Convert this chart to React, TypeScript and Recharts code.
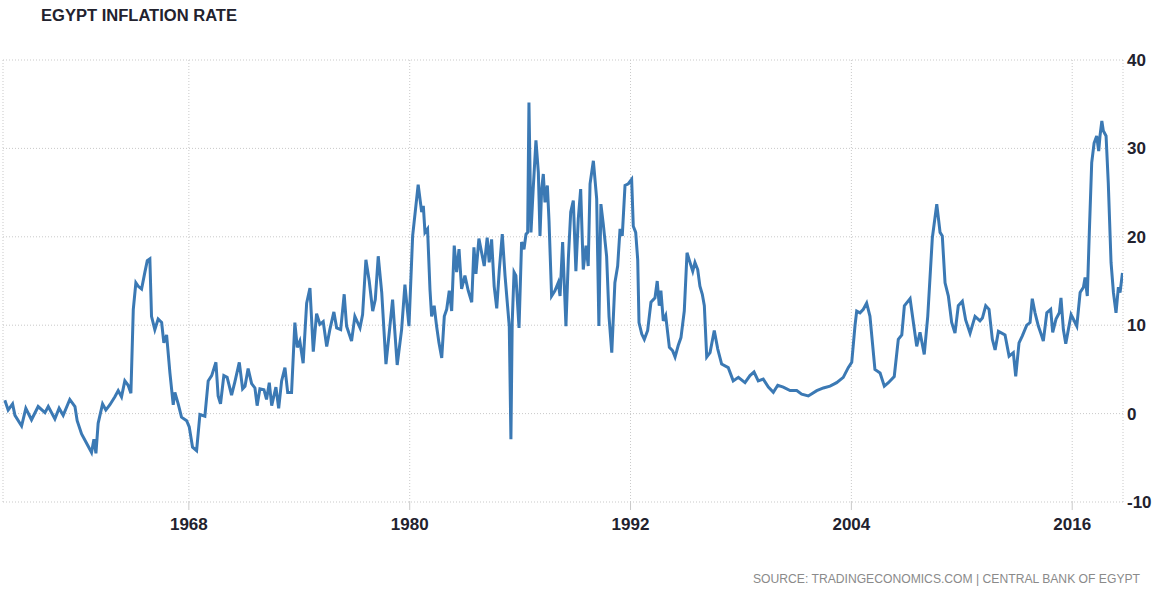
import { CartesianGrid, Line, LineChart, XAxis, YAxis } from "recharts";

// decimal years
const years = [
  1958.0, 1958.18, 1958.42, 1958.55, 1958.91, 1959.14, 1959.45, 1959.81, 1960.18, 1960.36,
  1960.72, 1960.95, 1961.17, 1961.53, 1961.81, 1961.93, 1962.17, 1962.53, 1962.71, 1962.84,
  1962.95, 1963.07, 1963.31, 1963.49, 1963.71, 1963.98, 1964.16, 1964.34, 1964.52, 1964.7,
  1964.85, 1964.98, 1965.12, 1965.25, 1965.43, 1965.61, 1965.74, 1965.88, 1965.97, 1966.15,
  1966.33, 1966.52, 1966.64, 1966.79, 1966.97, 1967.15, 1967.24, 1967.42, 1967.6, 1967.88,
  1968.02, 1968.2, 1968.42,
  1968.6, 1968.87, 1969.05, 1969.24, 1969.47, 1969.59, 1969.72, 1969.9, 1970.08, 1970.32,
  1970.5, 1970.74, 1970.92, 1971.05, 1971.22, 1971.41, 1971.59, 1971.71, 1971.86, 1972.08,
  1972.22, 1972.37, 1972.5, 1972.73, 1972.88, 1973.04, 1973.22, 1973.37, 1973.58, 1973.76,
  1973.89, 1974.03, 1974.21, 1974.4, 1974.58, 1974.76, 1974.94, 1975.12, 1975.3, 1975.49,
  1975.66, 1975.88, 1976.03, 1976.25, 1976.44, 1976.57, 1976.84, 1977.02, 1977.3, 1977.44,
  1977.62, 1977.8, 1977.99, 1978.13, 1978.29, 1978.48, 1978.71, 1978.89, 1979.07, 1979.32,
  1979.56, 1979.74, 1979.96, 1980.16, 1980.46,
  1980.65, 1980.74, 1980.83, 1980.97, 1981.1, 1981.19, 1981.33, 1981.46, 1981.59, 1981.74,
  1981.88, 1982.01, 1982.15, 1982.28, 1982.42, 1982.55, 1982.68, 1982.82, 1983.0, 1983.18,
  1983.37, 1983.49, 1983.6, 1983.76, 1983.91, 1984.05, 1984.21, 1984.32, 1984.45, 1984.59,
  1984.73, 1984.87, 1985.03, 1985.18, 1985.3, 1985.41, 1985.5, 1985.57, 1985.67, 1985.77,
  1985.94, 1986.08, 1986.21, 1986.32, 1986.41, 1986.48, 1986.59, 1986.71, 1986.86, 1986.99,
  1987.08, 1987.17, 1987.26, 1987.35, 1987.48, 1987.57, 1987.71, 1987.89, 1988.07, 1988.17,
  1988.31, 1988.49, 1988.62, 1988.75, 1988.89, 1989.03, 1989.16, 1989.29, 1989.43, 1989.58,
  1989.7, 1989.8, 1989.98, 1990.16, 1990.28, 1990.39, 1990.52, 1990.7, 1990.83, 1990.98,
  1991.15, 1991.3, 1991.43, 1991.55, 1991.7, 1991.88, 1992.06,
  1992.15, 1992.28, 1992.39, 1992.46, 1992.61, 1992.75, 1992.93, 1993.11, 1993.33, 1993.45,
  1993.56, 1993.65, 1993.78, 1993.91, 1994.11, 1994.29, 1994.42, 1994.59, 1994.74, 1994.92,
  1995.07, 1995.23, 1995.38, 1995.5, 1995.65, 1995.77, 1995.9, 1996.01, 1996.14, 1996.32,
  1996.55, 1996.74, 1996.95, 1997.31, 1997.58, 1997.86, 1998.22, 1998.49, 1998.71, 1998.94,
  1999.21, 1999.49, 1999.76, 2000.0, 2000.3, 2000.67, 2001.03, 2001.3, 2001.66, 2002.12,
  2002.48, 2002.84, 2003.2, 2003.56, 2003.83, 2004.02, 2004.2,
  2004.29, 2004.47, 2004.65, 2004.83, 2005.01, 2005.28, 2005.56, 2005.79, 2006.01, 2006.33,
  2006.55, 2006.74, 2006.88, 2007.19, 2007.37, 2007.55, 2007.73, 2007.96, 2008.15, 2008.4,
  2008.64, 2008.82, 2008.94, 2009.09, 2009.27, 2009.45, 2009.63, 2009.81, 2010.03, 2010.21,
  2010.45, 2010.72, 2010.99, 2011.12, 2011.3, 2011.48, 2011.66, 2011.81, 2011.99, 2012.17,
  2012.35, 2012.57, 2012.8, 2012.93, 2013.11, 2013.29, 2013.53, 2013.71, 2013.83, 2013.98,
  2014.16, 2014.34, 2014.43, 2014.62, 2014.83, 2014.94, 2015.12, 2015.3, 2015.39, 2015.52,
  2015.65, 2015.79, 2015.94, 2016.06, 2016.25, 2016.43, 2016.61, 2016.7, 2016.82, 2016.93,
  2017.06, 2017.19, 2017.33, 2017.44, 2017.51, 2017.61, 2017.69, 2017.84, 2017.96, 2018.11,
  2018.24, 2018.38, 2018.51, 2018.6, 2018.73,
];

const rates = [
  1.5, 0.4, 1.1, -0.2, -1.4, 0.6, -0.7, 0.8, 0.1, 0.8,
  -0.6, 0.6, -0.2, 1.6, 0.8, -0.8, -2.3, -3.7, -4.4, -2.9,
  -4.5, -1.1, 1.1, 0.4, 1.0, 1.9, 2.6, 1.9, 3.7, 3.2,
  2.3, 11.8, 14.8, 14.4, 14.1, 16.0, 17.3, 17.5, 11.0, 9.5,
  10.7, 10.3, 8.0, 8.9, 4.6, 1.0, 2.4, 1.1, -0.4, -0.8,
  -1.5, -3.8, -4.2,
  -0.1, -0.3, 3.7, 4.3, 5.8, 2.0, 1.1, 4.3, 4.1, 2.1,
  3.6, 5.8, 2.8, 3.1, 5.1, 3.4, 2.9, 0.9, 2.8, 2.7,
  1.6, 3.5, 0.9, 3.0, 0.6, 3.7, 5.2, 2.4, 2.4, 10.3,
  7.5, 8.2, 5.7, 12.5, 14.2, 7.0, 11.3, 10.1, 10.4, 7.6,
  9.5, 11.5, 9.7, 9.5, 13.5, 9.9, 8.2, 11.0, 9.7, 11.2,
  17.4, 15.0, 11.6, 12.9, 17.8, 13.7, 5.6, 9.2, 12.9, 5.5,
  9.5, 14.6, 9.9, 20.1, 25.9,
  22.8, 23.5, 20.5, 20.9, 14.1, 11.0, 12.2, 9.9, 8.0, 6.3,
  11.0, 11.8, 13.9, 11.6, 19.0, 16.0, 18.6, 14.1, 15.6, 13.9,
  12.6, 18.8, 15.8, 19.8, 18.2, 16.7, 19.9, 17.1, 19.7, 14.4,
  11.9, 16.3, 20.3, 15.6, 12.6, 9.9, -2.9, 10.3, 16.0, 15.6,
  9.7, 19.4, 18.6, 20.3, 20.5, 35.2, 20.5, 25.4, 30.9, 27.3,
  20.1, 25.4, 27.1, 23.9, 25.8, 21.8, 13.3, 13.9, 14.8, 13.3,
  19.4, 9.9, 17.5, 22.8, 24.1, 16.1, 22.0, 25.4, 16.3, 19.0,
  16.7, 26.0, 28.6, 24.3, 9.9, 23.7, 21.4, 17.8, 11.0, 6.9,
  14.8, 16.7, 20.9, 20.1, 25.8, 26.0, 26.5,
  21.2, 20.5, 17.4, 10.3, 9.0, 8.4, 9.4, 12.6, 13.1, 15.0,
  12.2, 13.9, 10.5, 11.1, 7.5, 7.1, 6.4, 7.7, 8.6, 11.6,
  18.2, 17.1, 16.1, 17.1, 16.3, 14.4, 13.5, 12.2, 6.4, 6.9,
  9.4, 7.3, 5.6, 5.2, 3.7, 4.1, 3.5, 4.3, 4.7, 3.7,
  3.9, 3.0, 2.4, 3.2, 3.0, 2.6, 2.6, 2.2, 2.0, 2.6,
  2.9, 3.1, 3.5, 4.1, 5.2, 5.8, 10.0,
  11.6, 11.4, 11.8, 12.5, 11.0, 5.0, 4.6, 3.1, 3.5, 4.2,
  8.4, 8.9, 12.2, 13.0, 10.3, 7.6, 9.2, 6.7, 11.0, 19.9,
  23.7, 20.5, 20.1, 14.8, 13.3, 10.3, 9.1, 12.2, 12.7, 10.6,
  9.1, 11.0, 10.5, 10.8, 12.2, 11.8, 8.4, 7.2, 9.3, 9.1,
  8.9, 6.5, 6.9, 4.2, 8.0, 8.8, 10.0, 10.3, 13.0, 11.4,
  9.9, 8.8, 8.2, 11.4, 11.8, 9.2, 10.7, 11.4, 13.1, 9.5,
  7.9, 9.5, 11.2, 10.7, 9.9, 13.7, 14.3, 15.4, 13.3, 20.5,
  28.4, 30.6, 31.4, 29.7, 31.4, 33.1, 32.0, 31.4, 26.1, 17.1,
  13.7, 11.4, 14.3, 13.7, 15.9,
];

const yearTicks = [1968, 1980, 1992, 2004, 2016];
const rateTicks = [-10, 0, 10, 20, 30, 40];

const data = years.map((year, i) => ({ year, rate: rates[i] }));

const FONT = '"Liberation Sans", Arial, sans-serif';
const TEXT = "#22222e";
const GRID = "#c9c9c9";

function YearTick({ x, y, payload }: any) {
  return (
    <text x={x} y={y} dy={18} textAnchor="middle" fontFamily={FONT} fontSize={17} fontWeight={700} fill={TEXT}>
      {payload.value}
    </text>
  );
}

function RateTick({ x, y, payload }: any) {
  return (
    <text x={x} y={y} dy={6} textAnchor="start" fontFamily={FONT} fontSize={17} fontWeight={700} fill={TEXT}>
      {payload.value}
    </text>
  );
}

export default function App() {
  return (
    <div style={{ position: "absolute", left: 0, top: 0, width: 1154, height: 590, background: "#fff" }}>
      <LineChart width={1154} height={590} data={data} margin={{ top: 60, right: 0, bottom: 48, left: 3 }}>
        <CartesianGrid stroke={GRID} strokeDasharray="1 2" horizontal vertical />
        <XAxis
          dataKey="year"
          type="number"
          domain={[1957.9, 2018.76]}
          ticks={yearTicks}
          allowDataOverflow
          axisLine={false}
          tickLine={{ stroke: GRID }}
          tickSize={8}
          tickMargin={2}
          height={40}
          tick={<YearTick />}
        />
        <YAxis
          orientation="right"
          type="number"
          domain={[-10, 40]}
          ticks={rateTicks}
          axisLine={false}
          tickLine={false}
          tickSize={0}
          tickMargin={4}
          width={31}
          tick={<RateTick />}
        />
        <Line
          type="linear"
          dataKey="rate"
          stroke="#3b79b4"
          strokeWidth={3}
          dot={false}
          isAnimationActive={false}
        />
      </LineChart>
      <svg width={1154} height={590} style={{ position: "absolute", left: 0, top: 0, pointerEvents: "none" }}>
        <text x={41} y={21} fontFamily={FONT} fontSize={16} fontWeight={700} fill={TEXT} textLength={196} lengthAdjust="spacingAndGlyphs">
          EGYPT INFLATION RATE
        </text>
        <text x={753} y={583} fontFamily={FONT} fontSize={12} fill="#8a8a8a" textLength={387} lengthAdjust="spacingAndGlyphs">
          SOURCE: TRADINGECONOMICS.COM | CENTRAL BANK OF EGYPT
        </text>
      </svg>
    </div>
  );
}
